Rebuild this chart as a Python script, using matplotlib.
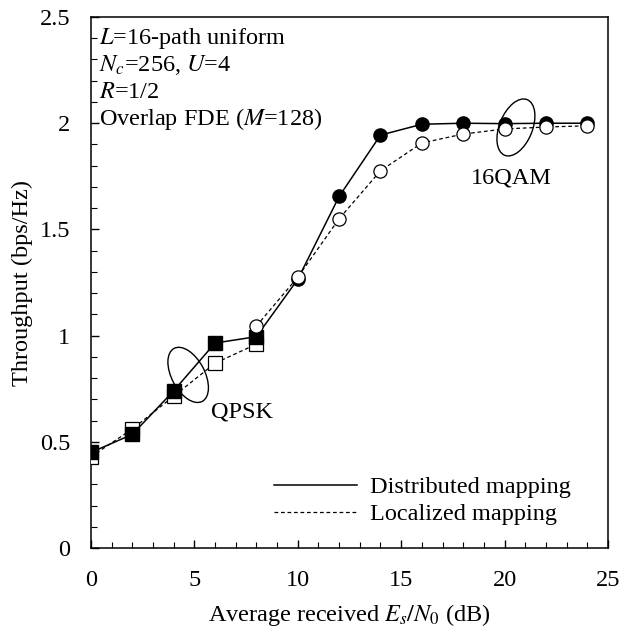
import matplotlib

matplotlib.use("Agg")
import matplotlib.pyplot as plt
from matplotlib.lines import Line2D
from matplotlib.patches import Ellipse
from matplotlib.transforms import ScaledTranslation

plt.rcParams["font.family"] = ["Liberation Serif", "DejaVu Serif"]
plt.rcParams["mathtext.fontset"] = "stix"
plt.rcParams["font.size"] = 17.5

# data
snr_qpsk = [0, 2, 4, 6, 8]
dist_qpsk = [0.45, 0.535, 0.74, 0.965, 0.995]
loc_qpsk = [0.43, 0.56, 0.715, 0.87, 0.96]

snr_qam_dist = [8, 10, 12, 14, 16, 18, 20, 22, 24]
dist_qam = [0.995, 1.265, 1.655, 1.944, 1.995, 2.0, 1.998, 2.0, 2.0]
snr_qam_loc = [8, 10, 12, 14, 16, 18, 20, 22, 24]
loc_qam = [1.045, 1.275, 1.55, 1.776, 1.907, 1.949, 1.973, 1.982, 1.988]

info_lines = [
    r"$L$=16-path uniform",
    r"$N_c$=256, $U$=4",
    r"$R$=1/2",
    r"Overlap FDE ($M$=128)",
]

fig = plt.figure(figsize=(6.38, 6.28), dpi=100)
ax = fig.add_axes([0.1426, 0.1274, 0.8103, 0.8455])

dash = (0, (3.0, 2.2))
ms = 9.5
ax.plot(snr_qpsk, loc_qpsk, color="black", lw=0.9, ls=dash, marker="s", ms=ms,
        mfc="white", mec="black", mew=0.9, zorder=3)
ax.plot(snr_qpsk, dist_qpsk, color="black", lw=1.1, marker="s", ms=ms,
        mfc="black", mec="black", zorder=4)
ax.plot(snr_qam_dist, dist_qam, color="black", lw=1.1, marker="o", ms=ms,
        mfc="black", mec="black", zorder=5)
ax.plot(snr_qam_loc, loc_qam, color="black", lw=0.9, ls=dash, marker="o", ms=ms,
        mfc="white", mec="black", mew=0.9, zorder=6)

# grouping ellipses (size in inches, anchored at a data point)
for (cx, cy), ang in [((4.7, 0.815), -62), ((20.55, 1.98), 68)]:
    tr = fig.dpi_scale_trans + ScaledTranslation(cx, cy, ax.transData)
    ax.add_patch(Ellipse((0, 0), 0.6, 0.33, angle=ang, fill=False,
                         ec="black", lw=1.0, transform=tr, zorder=2))

ax.text(7.3, 0.64, "QPSK", ha="center", va="center")
ax.text(20.35, 1.74, "16QAM", ha="center", va="center")

for i, s in enumerate(info_lines):
    ax.text(0.4, 2.40 - i * 0.127, s, ha="left", va="center")

handles = [
    Line2D([], [], color="black", lw=1.1),
    Line2D([], [], color="black", lw=0.9, ls=dash),
]
ax.legend(handles, ["Distributed mapping", "Localized mapping"],
          loc="lower right", bbox_to_anchor=(0.952, 0.02), frameon=False,
          borderpad=0, handlelength=3.4, handletextpad=0.55, labelspacing=0.2)

ax.set_xlim(0, 25)
ax.set_ylim(0, 2.5)
ax.set_xticks([0, 5, 10, 15, 20, 25])
ax.set_xticks(range(0, 26), minor=True)
ax.set_yticks([0, 0.5, 1, 1.5, 2, 2.5])
ax.set_yticklabels(["0", "0.5", "1", "1.5", "2", "2.5"])
ax.set_yticks([i / 10 for i in range(26)], minor=True)
ax.tick_params(which="both", direction="in", top=False, right=False)
ax.tick_params(which="major", length=6, width=1)
ax.tick_params(which="minor", length=4, width=0.8)
ax.tick_params(axis="x", which="major", pad=16)
ax.tick_params(axis="y", which="major", pad=15)
for sp in ax.spines.values():
    sp.set_linewidth(1.1)

ax.set_xlabel(r"Average received $E_s/N_0$ (dB)", labelpad=8)
ax.set_ylabel("Throughput (bps/Hz)", labelpad=5)

fig.savefig("out.png", dpi=100)
